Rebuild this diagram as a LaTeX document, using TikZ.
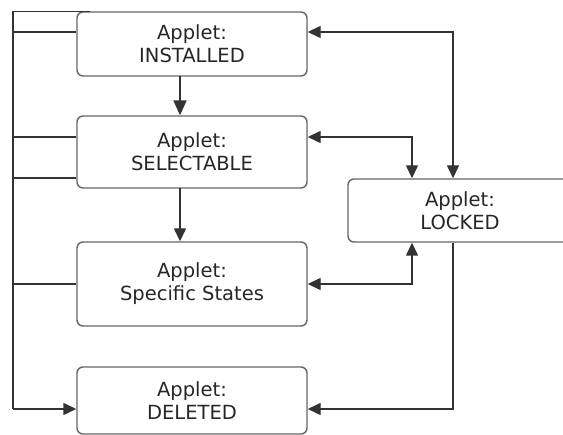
\documentclass[tikz,border=0pt]{standalone}
\usepackage{fontspec}
\setmainfont{DejaVu Sans}
\usetikzlibrary{arrows.meta}
\begin{document}
\begin{tikzpicture}[x=1pt,y=-1pt,
  statebox/.style={draw=black!60, line width=1.4pt, rounded corners=6pt, rectangle,
    minimum width=230pt, inner sep=0pt, align=center, text=black!85,
    font=\fontsize{19.5}{23}\selectfont},
  conn/.style={draw=black!80, line width=1.4pt},
  tip/.style={-{Triangle[length=13pt,width=12pt]}},
  tips/.style={{Triangle[length=13pt,width=12pt]}-{Triangle[length=13pt,width=12pt]}}]
\useasboundingbox (0,0) rectangle (563,435);
\node[statebox, minimum height=64pt] (inst) at (192,44) {Applet:\\INSTALLED};
\node[statebox, minimum height=72pt] (sel) at (192,152) {Applet:\\SELECTABLE};
\node[statebox, minimum height=84pt] (spec) at (192,284) {Applet:\\Specific States};
\node[statebox, minimum height=67pt] (del) at (192,400.5) {Applet:\\DELETED};
\node[statebox, minimum width=224pt, minimum height=63pt] (lock) at (460,210.5) {Applet:\\LOCKED};
% left bus
\coordinate (top) at (13,11.5);
\coordinate (bot) at (13,409);
\draw[conn] (inst.north west) ++(14pt,-0.5pt) coordinate (tt) -- (tt -| top) -- (top);
\draw[conn] (top) -- (bot);
\draw[conn, tip] (bot) -- (bot -| del.west);
\draw[conn] ([yshift=12pt]inst.west) coordinate (a1) -- (a1 -| top);
\draw[conn] ([yshift=15pt]sel.west) coordinate (a2) -- (a2 -| top);
\draw[conn] ([yshift=-26pt]sel.west) coordinate (a3) -- (a3 -| top);
\draw[conn] (spec.west) -- (spec.west -| top);
% vertical arrows
\draw[conn, line width=2.2pt, -{Triangle[length=15pt,width=13pt]}] (180,76) coordinate (v1) -- (v1 |- sel.north);
\draw[conn, tip] (180,188) coordinate (v2) -- (v2 |- spec.north);
% right side
\coordinate (r1) at (453,32);
\coordinate (r2) at (412,137);
\draw[conn, tips] (r1 -| inst.east) -- (r1) -- (r1 |- lock.north);
\draw[conn, tips] (r2 -| sel.east) -- (r2) -- (r2 |- lock.north);
\coordinate (r3) at (412,284);
\draw[conn, tips] (r3 -| spec.east) -- (r3) -- (r3 |- lock.south);
\coordinate (r4) at (453,409);
\draw[conn, tip] (r4 |- lock.south) -- (r4) -- (r4 -| del.east);
\end{tikzpicture}
\end{document}
